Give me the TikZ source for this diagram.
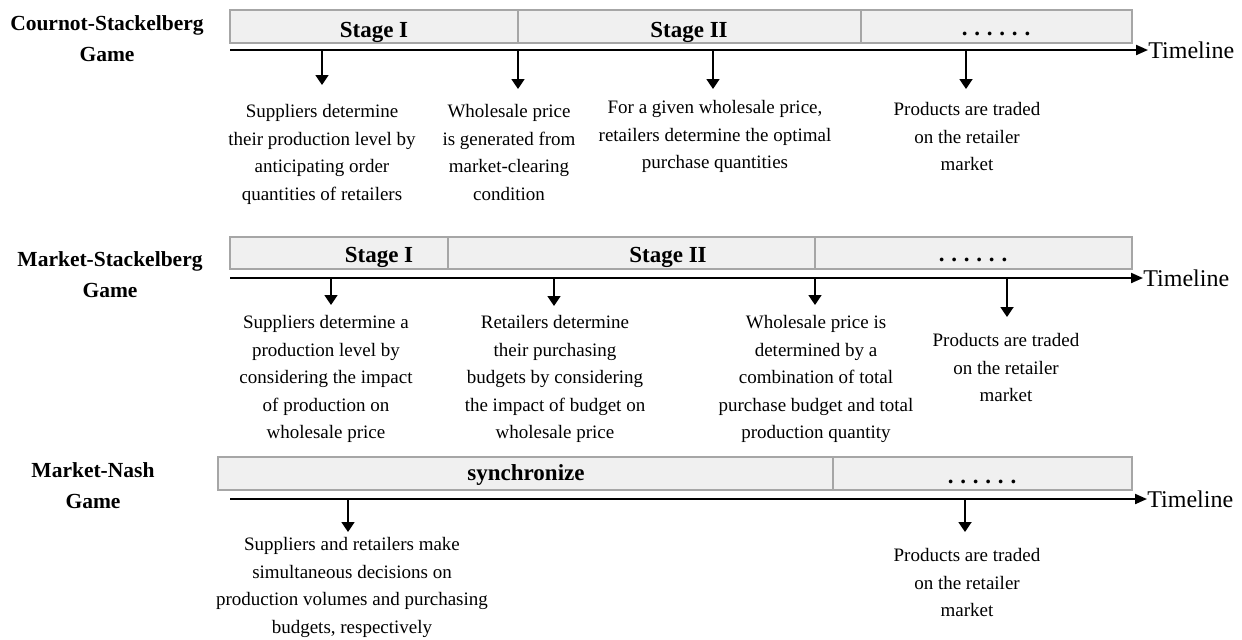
\documentclass[tikz,border=0pt]{standalone}
\usepackage{fontspec}
\setmainfont{Liberation Serif}
\usetikzlibrary{positioning,arrows.meta}

\newcommand{\sixdots}{.\hspace{3.4pt}.\hspace{3.4pt}.\hspace{3.4pt}.\hspace{3.4pt}.\hspace{3.4pt}.}

\begin{document}
\begin{tikzpicture}[
  x=0.5pt, y=-0.5pt,
  every node/.style={inner sep=0pt},
  game/.style={anchor=north,align=center,font=\fontsize{10.75}{15.75}\selectfont\bfseries},
  cell/.style={draw=gray!70,fill=gray!12,line width=0.6pt},
  stagelbl/.style={anchor=base,font=\fontsize{11.5}{14}\selectfont\bfseries},
  desc/.style={anchor=north,align=center,font=\fontsize{9.5}{13.75}\selectfont},
  tline/.style={line width=1pt,-{Triangle[length=6pt,width=5pt]}},
  tlabel/.style={font=\fontsize{12}{14}\selectfont},
  arr/.style={line width=0.9pt,-{Triangle[length=5pt,width=6.5pt]}}
]
\useasboundingbox (0,0) rectangle (1242,639);

% Cournot-Stackelberg game
\node[game] (cs) at (107,15) {Cournot-Stackelberg\\Game};
\draw[cell] (230,10) rectangle (518,43);
\draw[cell] (518,10) rectangle (861,43);
\draw[cell] (861,10) rectangle (1132,43);
\node[stagelbl] (csI) at (374,37) {Stage I};
\node[stagelbl] (csII) at (689,37) {Stage II};
\node[stagelbl] (csdots) at (996,35) {\sixdots};
\coordinate (csl0) at (230,50);
\coordinate (csl1) at (1148,50);
\draw[tline] (csl0) -- (csl1);
\node[tlabel, right=0pt of csl1] (cstl) {Timeline};
\coordinate (csp1) at (322,50);
\coordinate (csp2) at (518,50);
\coordinate (csp3) at (713,50);
\coordinate (csp4) at (966,50);
\node[desc] (csd1) at (322,104) {Suppliers determine\\their production level by\\anticipating order\\quantities of retailers};
\node[desc] (csd2) at (509,104) {Wholesale price\\is generated from\\market-clearing\\condition};
\node[desc] (csd3) at (715,100) {For a given wholesale price,\\retailers determine the optimal\\purchase quantities};
\node[desc] (csd4) at (967,102) {Products are traded\\on the retailer\\market};
\draw[arr, shorten >=9.5pt] (csp1) -- (csp1 |- csd1.north);
\draw[arr, shorten >=7.5pt] (csp2) -- (csp2 |- csd2.north);
\draw[arr, shorten >=5.5pt] (csp3) -- (csp3 |- csd3.north);
\draw[arr, shorten >=6.5pt] (csp4) -- (csp4 |- csd4.north);

% Market-Stackelberg game
\node[game] (ms) at (110,251) {Market-Stackelberg\\Game};
\draw[cell] (230,237) rectangle (448,269);
\draw[cell] (448,237) rectangle (815,269);
\draw[cell] (815,237) rectangle (1132,269);
\node[stagelbl] (msI) at (379,262) {Stage I};
\node[stagelbl] (msII) at (668,262) {Stage II};
\node[stagelbl] (msdots) at (973,261) {\sixdots};
\coordinate (msl0) at (230,278);
\coordinate (msl1) at (1143,278);
\draw[tline] (msl0) -- (msl1);
\node[tlabel, right=0pt of msl1] (mstl) {Timeline};
\coordinate (msp1) at (331,278);
\coordinate (msp2) at (554,278);
\coordinate (msp3) at (815,278);
\coordinate (msp4) at (1007,278);
\node[desc] (msd1) at (326,315) {Suppliers determine a\\production level by\\considering the impact\\of production on\\wholesale price};
\node[desc] (msd2) at (555,315) {Retailers determine\\their purchasing\\budgets by considering\\the impact of budget on\\wholesale price};
\node[desc] (msd3) at (816,315) {Wholesale price is\\determined by a\\combination of total\\purchase budget and total\\production quantity};
\node[desc] (msd4) at (1006,333) {Products are traded\\on the retailer\\market};
\draw[arr, shorten >=5pt] (msp1) -- (msp1 |- msd1.north);
\draw[arr, shorten >=4.5pt] (msp2) -- (msp2 |- msd2.north);
\draw[arr, shorten >=5pt] (msp3) -- (msp3 |- msd3.north);
\draw[arr, shorten >=8pt] (msp4) -- (msp4 |- msd4.north);

% Market-Nash game
\node[game] (mn) at (93,462) {Market-Nash\\Game};
\draw[cell] (218,457) rectangle (833,490);
\draw[cell] (833,457) rectangle (1132,490);
\node[stagelbl] (mnsync) at (526,480) {synchronize};
\node[stagelbl] (mndots) at (982,483) {\sixdots};
\coordinate (mnl0) at (230,499);
\coordinate (mnl1) at (1147,499);
\draw[tline] (mnl0) -- (mnl1);
\node[tlabel, right=0pt of mnl1] (mntl) {Timeline};
\coordinate (mnp1) at (348,499);
\coordinate (mnp2) at (965,499);
\node[desc] (mnd1) at (352,537) {Suppliers and retailers make\\simultaneous decisions on\\production volumes and purchasing\\budgets, respectively};
\node[desc] (mnd2) at (967,548) {Products are traded\\on the retailer\\market};
\draw[arr, shorten >=2.5pt] (mnp1) -- (mnp1 |- mnd1.north);
\draw[arr, shorten >=8pt] (mnp2) -- (mnp2 |- mnd2.north);
\end{tikzpicture}
\end{document}
